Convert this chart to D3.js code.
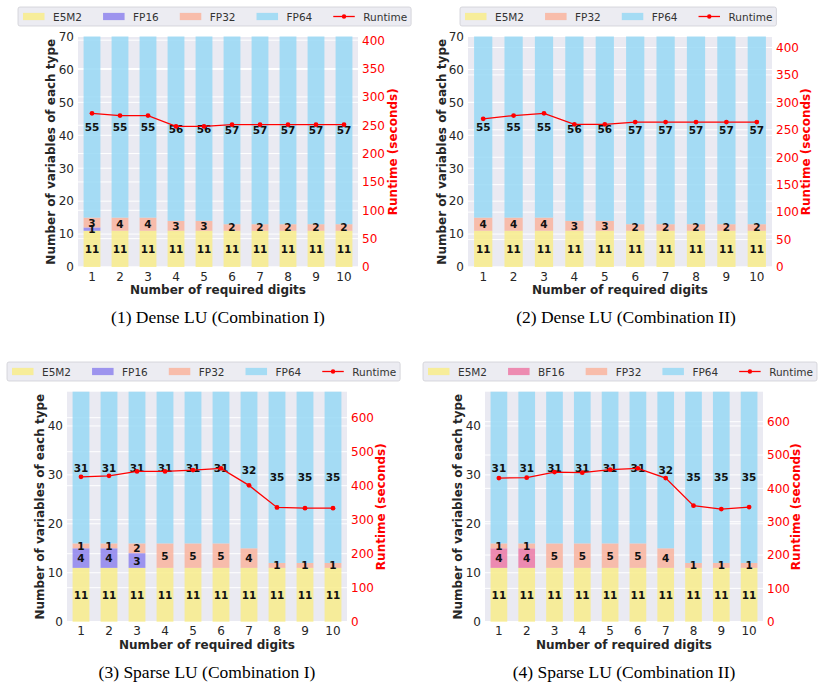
<!DOCTYPE html>
<html>
<head>
<meta charset="utf-8">
<script src="https://cdn.jsdelivr.net/npm/d3@7"></script>
<style>
  html, body { margin: 0; padding: 0; background: #ffffff; }
  svg { display: block; }
</style>
</head>
<body>
<svg id="chart" width="831" height="688" font-family="DejaVu Sans, sans-serif"></svg>
<script>
// ---------------- DATA ----------------
const digits = ["1", "2", "3", "4", "5", "6", "7", "8", "9", "10"];

// (1) Dense LU (Combination I)
const p1E5M2 = [11, 11, 11, 11, 11, 11, 11, 11, 11, 11];
const p1FP16 = [1, 0, 0, 0, 0, 0, 0, 0, 0, 0];
const p1FP32 = [3, 4, 4, 3, 3, 2, 2, 2, 2, 2];
const p1FP64 = [55, 55, 55, 56, 56, 57, 57, 57, 57, 57];
const p1Runtime = [271, 267, 267, 248, 248, 251, 251, 251, 251, 251];

// (2) Dense LU (Combination II)
const p2E5M2 = [11, 11, 11, 11, 11, 11, 11, 11, 11, 11];
const p2FP32 = [4, 4, 4, 3, 3, 2, 2, 2, 2, 2];
const p2FP64 = [55, 55, 55, 56, 56, 57, 57, 57, 57, 57];
const p2Runtime = [270, 276, 280, 260, 260, 264, 264, 264, 264, 264];

// (3) Sparse LU (Combination I)
const p3E5M2 = [11, 11, 11, 11, 11, 11, 11, 11, 11, 11];
const p3FP16 = [4, 4, 3, 0, 0, 0, 0, 0, 0, 0];
const p3FP32 = [1, 1, 2, 5, 5, 5, 4, 1, 1, 1];
const p3FP64 = [31, 31, 31, 31, 31, 31, 32, 35, 35, 35];
const p3Runtime = [426, 429, 442, 442, 446, 451, 401, 336, 334, 334];

// (4) Sparse LU (Combination II)
const p4E5M2 = [11, 11, 11, 11, 11, 11, 11, 11, 11, 11];
const p4BF16 = [4, 4, 0, 0, 0, 0, 0, 0, 0, 0];
const p4FP32 = [1, 1, 5, 5, 5, 5, 4, 1, 1, 1];
const p4FP64 = [31, 31, 31, 31, 31, 31, 32, 35, 35, 35];
const p4Runtime = [431, 432, 449, 447, 456, 460, 431, 348, 338, 344];

const leftTicksDense = [0, 10, 20, 30, 40, 50, 60, 70];
const rightTicksDense = [0, 50, 100, 150, 200, 250, 300, 350, 400];
const leftTicksSparse = [0, 10, 20, 30, 40];
const rightTicksSparse = [0, 100, 200, 300, 400, 500, 600];

const captions = [
  "(1) Dense LU (Combination I)",
  "(2) Dense LU (Combination II)",
  "(3) Sparse LU (Combination I)",
  "(4) Sparse LU (Combination II)"
];

const colors = {
  E5M2: "#f8ec8c",
  FP16: "#8f85ee",
  BF16: "#ec7aa7",
  FP32: "#f9b5a0",
  FP64: "#99d8f5"
};

// ---------------- PANELS ----------------
const panels = [
  { series: [["E5M2", p1E5M2], ["FP16", p1FP16], ["FP32", p1FP32], ["FP64", p1FP64]], runtime: p1Runtime,
    leftTicks: leftTicksDense, rightTicks: rightTicksDense, caption: captions[0],
    x0: 78, x1: 358, y0: 36.5, y1: 267, legX: 18, legY: 7, capX: 218, capY: 323, ylabX: 51, rlabX: 393 },
  { series: [["E5M2", p2E5M2], ["FP32", p2FP32], ["FP64", p2FP64]], runtime: p2Runtime,
    leftTicks: leftTicksDense, rightTicks: rightTicksDense, caption: captions[1],
    x0: 468, x1: 772, y0: 36.5, y1: 267, legX: 460, legY: 7, capX: 626, capY: 323, ylabX: 442, rlabX: 806 },
  { series: [["E5M2", p3E5M2], ["FP16", p3FP16], ["FP32", p3FP32], ["FP64", p3FP64]], runtime: p3Runtime,
    leftTicks: leftTicksSparse, rightTicks: rightTicksSparse, caption: captions[2],
    x0: 67, x1: 347, y0: 391.7, y1: 621.7, legX: 7, legY: 362, capX: 207, capY: 678, ylabX: 39.5, rlabX: 381 },
  { series: [["E5M2", p4E5M2], ["BF16", p4BF16], ["FP32", p4FP32], ["FP64", p4FP64]], runtime: p4Runtime,
    leftTicks: leftTicksSparse, rightTicks: rightTicksSparse, caption: captions[3],
    x0: 485, x1: 763, y0: 391.7, y1: 621.7, legX: 423, legY: 362, capX: 624, capY: 678, ylabX: 457.5, rlabX: 796 }
];

const svg = d3.select("#chart");
const TEXT = "#262626";
const RED = "#ff0000";

panels.forEach(p => {
  const g = svg.append("g");
  const names = p.series.map(s => s[0]);
  const totals = digits.map((d, i) => d3.sum(p.series, s => s[1][i]));
  const yMax = d3.max(totals);
  const rMax = d3.max(p.runtime) * 1.5;

  const x = d3.scaleBand().domain(digits).range([p.x0, p.x1]).paddingInner(0.4).paddingOuter(0.2);
  const y = d3.scaleLinear().domain([0, yMax]).range([p.y1, p.y0]);
  const yR = d3.scaleLinear().domain([0, rMax]).range([p.y1, p.y0]);

  // background
  g.append("rect").attr("x", p.x0).attr("y", p.y0).attr("width", p.x1 - p.x0).attr("height", p.y1 - p.y0)
    .attr("fill", "#eaeaf2");

  // grid lines (left and right)
  g.append("g").selectAll("line").data(p.leftTicks).join("line")
    .attr("x1", p.x0).attr("x2", p.x1).attr("y1", d => y(d)).attr("y2", d => y(d))
    .attr("stroke", "#ffffff").attr("stroke-width", 1);
  g.append("g").selectAll("line").data(p.rightTicks).join("line")
    .attr("x1", p.x0).attr("x2", p.x1).attr("y1", d => yR(d)).attr("y2", d => yR(d))
    .attr("stroke", "#ffffff").attr("stroke-width", 1);

  // stacked bars
  const rows = digits.map((d, i) => {
    const r = { digit: d };
    names.forEach((n, k) => r[n] = p.series[k][1][i]);
    return r;
  });
  const stacked = d3.stack().keys(names)(rows);
  stacked.forEach(layer => {
    const key = layer.key;
    g.append("g").selectAll("rect").data(layer).join("rect")
      .attr("x", d => x(d.data.digit))
      .attr("width", x.bandwidth())
      .attr("y", d => y(d[1]))
      .attr("height", d => y(d[0]) - y(d[1]))
      .attr("fill", colors[key]).attr("fill-opacity", 0.86);
  });
  // bar labels
  stacked.forEach(layer => {
    g.append("g").selectAll("text").data(layer.filter(d => d[1] - d[0] > 0)).join("text")
      .attr("x", d => x(d.data.digit) + x.bandwidth() / 2)
      .attr("y", d => y((d[0] + d[1]) / 2))
      .attr("text-anchor", "middle").attr("dominant-baseline", "central")
      .attr("font-size", 10.5).attr("font-weight", "bold").attr("fill", "#111")
      .text(d => d[1] - d[0]);
  });

  // runtime line
  const line = d3.line().x((d, i) => x(digits[i]) + x.bandwidth() / 2).y(d => yR(d));
  g.append("path").datum(p.runtime).attr("d", line)
    .attr("fill", "none").attr("stroke", RED).attr("stroke-width", 1.3);
  g.append("g").selectAll("circle").data(p.runtime).join("circle")
    .attr("cx", (d, i) => x(digits[i]) + x.bandwidth() / 2).attr("cy", d => yR(d))
    .attr("r", 2.4).attr("fill", RED);

  // axes
  const xAxis = d3.axisBottom(x).tickSize(0).tickPadding(5);
  const xa = g.append("g").attr("transform", `translate(0,${p.y1})`).call(xAxis);
  xa.select(".domain").remove();
  xa.selectAll("text").attr("font-size", 12).attr("fill", TEXT).attr("font-family", "DejaVu Sans");

  const yAxis = d3.axisLeft(y).tickValues(p.leftTicks).tickSize(0).tickPadding(4);
  const ya = g.append("g").attr("transform", `translate(${p.x0},0)`).call(yAxis);
  ya.select(".domain").remove();
  ya.selectAll("text").attr("font-size", 12).attr("fill", TEXT).attr("font-family", "DejaVu Sans");

  const yrAxis = d3.axisRight(yR).tickValues(p.rightTicks).tickSize(0).tickPadding(4);
  const yra = g.append("g").attr("transform", `translate(${p.x1},0)`).call(yrAxis);
  yra.select(".domain").remove();
  yra.selectAll("text").attr("font-size", 12).attr("fill", RED).attr("font-family", "DejaVu Sans");

  // axis labels
  const cy = (p.y0 + p.y1) / 2;
  g.append("text").attr("transform", `translate(${p.ylabX},${cy}) rotate(-90)`)
    .attr("text-anchor", "middle").attr("dominant-baseline", "central")
    .attr("font-size", 12).attr("font-weight", "bold").attr("fill", TEXT)
    .text("Number of variables of each type");
  g.append("text").attr("transform", `translate(${p.rlabX},${cy}) rotate(-90)`)
    .attr("text-anchor", "middle").attr("dominant-baseline", "central")
    .attr("font-size", 12).attr("font-weight", "bold").attr("fill", RED)
    .text("Runtime (seconds)");
  g.append("text").attr("x", (p.x0 + p.x1) / 2).attr("y", p.y1 + 27)
    .attr("text-anchor", "middle")
    .attr("font-size", 12).attr("font-weight", "bold").attr("fill", TEXT)
    .text("Number of required digits");

  // caption
  g.append("text").attr("x", p.capX).attr("y", p.capY)
    .attr("text-anchor", "middle").style("font-family", "'Liberation Serif', 'Times New Roman', serif")
    .attr("font-size", 17.5).attr("fill", "#000")
    .text(p.caption);

  // legend
  const leg = g.append("g");
  const box = leg.append("rect").attr("x", p.legX).attr("y", p.legY).attr("height", 19).attr("rx", 2)
    .attr("fill", "#ececf2").attr("stroke", "#cfcfd6").attr("stroke-width", 0.8);
  const items = names.concat(["Runtime"]);
  let cx = p.legX + 5;
  const midY = p.legY + 9.5;
  items.forEach(name => {
    if (name === "Runtime") {
      leg.append("line").attr("x1", cx).attr("x2", cx + 21.5).attr("y1", midY).attr("y2", midY)
        .attr("stroke", RED).attr("stroke-width", 1.3);
      leg.append("circle").attr("cx", cx + 10.75).attr("cy", midY).attr("r", 2.2).attr("fill", RED);
    } else {
      leg.append("rect").attr("x", cx).attr("y", midY - 3.6).attr("width", 21.5).attr("height", 7.2)
        .attr("fill", colors[name]).attr("fill-opacity", 0.86);
    }
    const t = leg.append("text").attr("x", cx + 30).attr("y", midY).attr("dominant-baseline", "central")
      .attr("font-size", 10.5).attr("fill", "#333").text(name);
    const w = t.node().getComputedTextLength();
    cx = cx + 30 + w + 21;
  });
  box.attr("width", cx - 21 + 4 - p.legX);
});
</script>
</body>
</html>
